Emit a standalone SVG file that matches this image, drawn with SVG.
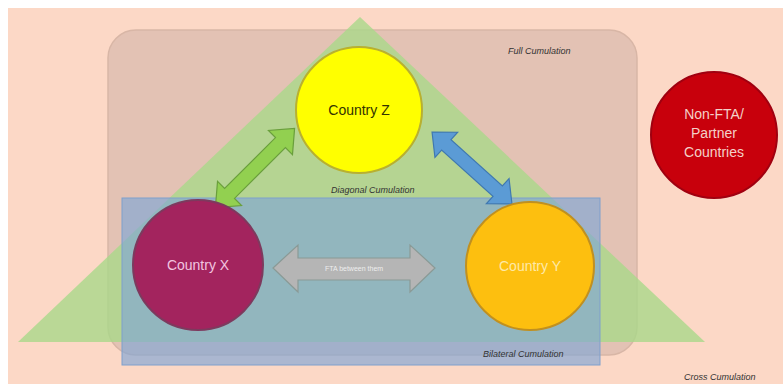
<svg xmlns="http://www.w3.org/2000/svg" width="783" height="384" viewBox="0 0 783 384">
<style>
.lbl{font-family:"Liberation Sans",Arial,sans-serif;font-style:italic;font-size:9px;fill:#333}
.ct{font-family:"Liberation Sans",Arial,sans-serif;font-size:14px;text-anchor:middle}
</style>
<defs>
<polygon id="dbl" points="-56,0 -36,-17 -36,-7 36,-7 36,-17 56,0 36,17 36,7 -36,7 -36,17"/>
</defs>
<rect x="0" y="0" width="783" height="384" fill="#ffffff"/>
<rect x="8" y="8" width="775" height="376" fill="#fcd8c6"/>
<g id="full-cumulation">
<rect x="108" y="30" width="529" height="325" rx="28" fill="#e3c2b4" stroke="#d8b6a6" stroke-width="1.5"/>
<text class="lbl" x="508" y="54">Full Cumulation</text>
</g>
<g id="diagonal-cumulation">
<polygon points="360,17 18,342 705,342" fill="#a9d88a" fill-opacity="0.8"/>
<text class="lbl" x="331" y="193">Diagonal Cumulation</text>
</g>
<g id="bilateral-cumulation">
<rect x="122" y="198" width="478" height="167" fill="#7fa6d6" fill-opacity="0.65" stroke="#7f9fcc" stroke-width="1"/>
<text class="lbl" x="483" y="357">Bilateral Cumulation</text>
</g>
<g id="cross-cumulation">
<text class="lbl" x="684" y="380">Cross Cumulation</text>
</g>
<g id="connectors">
<use href="#dbl" transform="translate(255,168) rotate(-45)" fill="#92d050" stroke="#6a9f3c" stroke-width="1.2"/>
<use href="#dbl" transform="translate(472,168) rotate(42) scale(0.96,1)" fill="#5b9bd5" stroke="#3f78b0" stroke-width="1.2"/>
<polygon points="273,268 298,245 298,258 410,258 410,245 435,268 410,292 410,280 298,280 298,292" fill="#b5b5b5" stroke="#8a9a96" stroke-width="1.2"/>
<text x="354" y="271" font-family="Liberation Sans,Arial,sans-serif" font-size="7" fill="#eeeeee" text-anchor="middle">FTA between them</text>
</g>
<g id="country-z">
<circle cx="359" cy="110" r="63" fill="#ffff00" stroke="#b8b030" stroke-width="2"/>
<text class="ct" x="359" y="115" fill="#333300">Country Z</text>
</g>
<g id="country-x">
<circle cx="198" cy="265" r="65" fill="#a3245e" stroke="#7d3a5e" stroke-width="2"/>
<text class="ct" x="198" y="270" fill="#f2c6e0">Country X</text>
</g>
<g id="country-y">
<circle cx="530" cy="266" r="64" fill="#fdbf0f" stroke="#c09020" stroke-width="2"/>
<text class="ct" x="530" y="271" fill="#fde9a8">Country Y</text>
</g>
<g id="non-fta">
<circle cx="714" cy="135" r="63" fill="#c8000c" stroke="#a00010" stroke-width="2"/>
<text class="ct" x="714" y="119" fill="#f4d0c8" font-size="13">Non-FTA/</text>
<text class="ct" x="714" y="138" fill="#f4d0c8" font-size="13">Partner</text>
<text class="ct" x="714" y="157" fill="#f4d0c8" font-size="13">Countries</text>
</g>
</svg>
